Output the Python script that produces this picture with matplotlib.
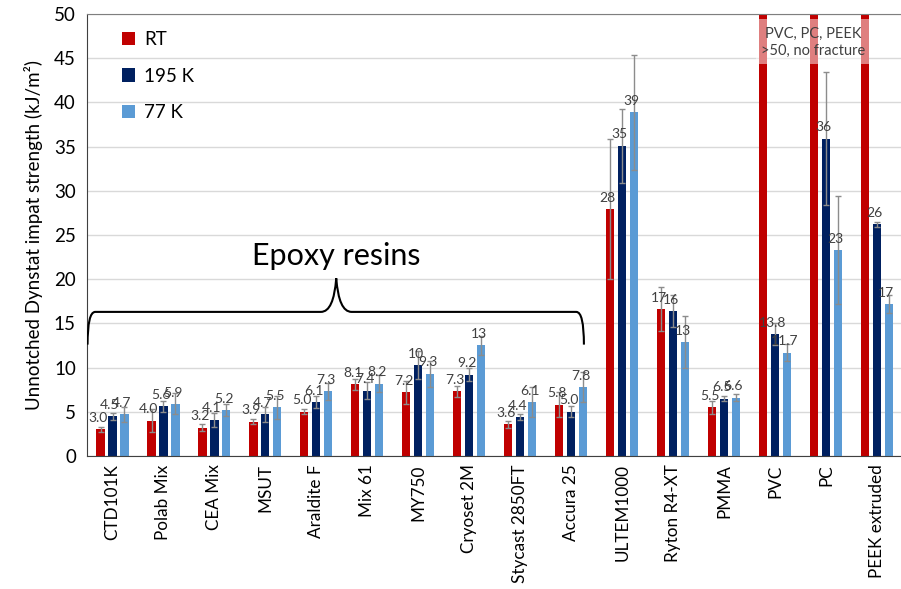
import matplotlib; matplotlib.use('Agg')
import matplotlib.pyplot as plt
import numpy as np
from matplotlib.patches import Patch
from matplotlib.path import Path
from matplotlib.patches import PathPatch

plt.rcParams['font.family'] = ['Lato', 'DejaVu Sans']

materials = ['CTD101K', 'Polab Mix', 'CEA Mix', 'MSUT', 'Araldite F', 'Mix 61', 'MY750',
             'Cryoset 2M', 'Stycast 2850FT', 'Accura 25', 'ULTEM1000', 'Ryton R4-XT',
             'PMMA', 'PVC', 'PC', 'PEEK extruded']
series = ['RT', '195 K', '77 K']
colors = ['#C00000', '#002060', '#5B9BD5']

# RT for PVC/PC/PEEK: >50, no fracture -> drawn past the top
rt_vals  = [3.0, 4.0, 3.2, 3.9, 5.0, 8.1, 7.2, 7.3, 3.6, 5.8, 27.9, 16.6, 5.5, 60, 60, 60]
k195_vals = [4.5, 5.6, 4.1, 4.7, 6.1, 7.4, 10.3, 9.2, 4.4, 5.0, 35.1, 16.4, 6.5, 13.8, 35.9, 26.2]
k77_vals = [4.7, 5.9, 5.2, 5.5, 7.3, 8.2, 9.3, 12.5, 6.1, 7.8, 38.9, 12.9, 6.6, 11.7, 23.3, 17.2]

rt_err   = [0.3, 1.3, 0.4, 0.3, 0.3, 0.6, 1.3, 0.6, 0.4, 1.4, 7.9, 2.5, 0.7, np.nan, np.nan, np.nan]
k195_err = [0.4, 0.6, 0.8, 0.8, 0.7, 1.0, 1.6, 0.7, 0.3, 0.6, 4.2, 1.8, 0.3, 1.3, 7.5, 0.3]
k77_err  = [0.8, 1.2, 0.7, 1.3, 1.0, 1.0, 1.5, 1.1, 1.7, 1.7, 6.5, 2.9, 0.4, 1.0, 6.1, 1.0]

rt_lbl   = ['3.0', '4.0', '3.2', '3.9', '5.0', '8.1', '7.2', '7.3', '3.6', '5.8', '28', '17', '5.5', '', '', '']
k195_lbl = ['4.5', '5.6', '4.1', '4.7', '6.1', '7.4', '10', '9.2', '4.4', '5.0', '35', '16', '6.5', '13.8', '36', '26']
k77_lbl  = ['4.7', '5.9', '5.2', '5.5', '7.3', '8.2', '9.3', '13', '6.1', '7.8', '39', '13', '6.6', '11.7', '23', '17']

fig = plt.figure(figsize=(9.01, 5.89), dpi=100)
ax = fig.add_axes([0.0966, 0.2258, 0.905, 0.7505])

x = np.arange(len(materials))
w, step = 0.16, 0.235
for i, (vals, errs, lbls) in enumerate([(rt_vals, rt_err, rt_lbl),
                                        (k195_vals, k195_err, k195_lbl),
                                        (k77_vals, k77_err, k77_lbl)]):
    xs = x + (i - 1) * step
    ax.bar(xs, vals, w, color=colors[i], zorder=2, label=series[i],
           yerr=errs, error_kw=dict(ecolor='#8c8c8c', elinewidth=1.0, capsize=2, capthick=1.0, zorder=3))
    for xx, v, t in zip(xs, vals, lbls):
        if t:
            ax.text(xx - 0.05, v + 0.6, t, ha='center', va='bottom', fontsize=10, color='#404040', zorder=4)

ax.set_ylim(0, 50)
ax.set_xlim(-0.5, 15.5)
ax.set_yticks(np.arange(0, 51, 5))
ax.yaxis.grid(True, color='#d9d9d9', lw=1, zorder=0)
ax.set_axisbelow(True)
ax.tick_params(axis='y', length=0, labelsize=13.5, pad=8)
ax.tick_params(axis='x', length=0, labelsize=12.3, pad=6)
ax.set_xticks(x)
ax.set_xticklabels(materials, rotation=90)
ax.set_ylabel('Unnotched Dynstat impat strength (kJ/m²)', fontsize=13.5, labelpad=8)
for s in ['left', 'bottom']:
    ax.spines[s].set_color('#404040')
ax.spines['top'].set_color('#7f7f7f')
ax.spines['right'].set_visible(False)

# note over the clipped bars
ax.add_patch(plt.Rectangle((12.63, 44.3), 2.22, 5.15, facecolor='white', alpha=0.5,
                           edgecolor='none', zorder=5))
ax.text(13.75, 46.8, 'PVC, PC, PEEK\n>50, no fracture', ha='center', va='center',
        fontsize=10.5, color='#404040', zorder=6, linespacing=1.3)

# curly brace for epoxies
xl, xr, xm = -0.49, 9.25, 4.39
yb, yh, yt = 12.6, 16.3, 20.1
verts = [(xl, yb), (xl, yh), (xl + 0.15, yh),
         (xm - 0.3, yh), (xm - 0.05, yh), (xm, yt),
         (xm + 0.05, yh), (xm + 0.3, yh),
         (xr - 0.15, yh), (xr, yh), (xr, yb)]
codes = [Path.MOVETO, Path.CURVE3, Path.CURVE3,
         Path.LINETO, Path.CURVE3, Path.CURVE3,
         Path.CURVE3, Path.CURVE3,
         Path.LINETO, Path.CURVE3, Path.CURVE3]
ax.add_patch(PathPatch(Path(verts, codes), facecolor='none', edgecolor='black', lw=1.5, zorder=4))
ax.text(xm, 22.6, 'Epoxy resins', ha='center', va='center', fontsize=22, color='black')

handles = [Patch(facecolor=c, label=s) for c, s in zip(colors, series)]
ax.legend(handles=handles, loc='upper left', bbox_to_anchor=(0.022, 1.0), frameon=False,
          fontsize=13.5, handlelength=0.7, handleheight=0.7, labelspacing=1.05, handletextpad=0.5)

fig.savefig('out.png', dpi=100)
